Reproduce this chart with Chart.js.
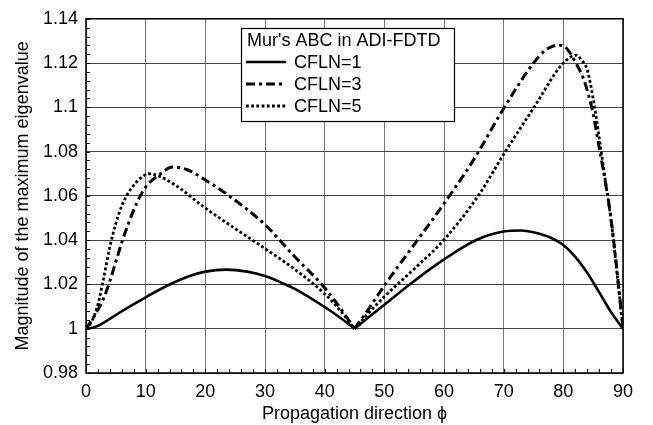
<!DOCTYPE html>
<html>
<head>
<meta charset="utf-8">
<script src="https://cdn.jsdelivr.net/npm/chart.js@4"></script>
<style>
    html, body { margin: 0; padding: 0; background: #ffffff; }
    #wrap { width: 653px; height: 425px; }
</style>
</head>
<body>
<div id="wrap"><canvas id="eigChart" width="653" height="425"></canvas></div>
<script>
// propagation direction (deg) and magnitude of max eigenvalue, split at 45 deg
const phiLeft1 = [0, 1.5, 3, 5, 7.5, 10, 13.5, 17, 20, 23.5, 27, 30, 33, 35, 40, 42.5, 45];
const cfl1Left = [1.0, 1.0008, 1.0028, 1.0062, 1.0103, 1.0142, 1.0193, 1.0235, 1.0258, 1.0267, 1.0258, 1.0238, 1.0205, 1.018, 1.0098, 1.0052, 1.0];
const phiRight1 = [45, 47, 50, 54.3, 60, 65.5, 70, 72.9, 75, 78, 80, 82, 84, 86, 88, 90];
const cfl1Right = [1.0, 1.0044, 1.0108, 1.0201, 1.0313, 1.0402, 1.0439, 1.0444, 1.0436, 1.041, 1.0378, 1.0325, 1.0253, 1.0165, 1.0075, 1.0];

const phiLeft3 = [0, 1, 2, 3, 4, 5, 6, 7, 8.6, 10, 12.5, 14.5, 17, 20, 24, 30, 35, 40, 43, 45];
const cfl3Left = [1.0, 1.004, 1.0085, 1.0141, 1.0215, 1.0303, 1.039, 1.0467, 1.0573, 1.064, 1.07, 1.073, 1.0718, 1.0672, 1.06, 1.047, 1.0325, 1.0185, 1.0078, 1.0];
const phiRight3 = [45, 47, 50, 55, 60, 65, 70, 75, 77, 79.2, 80.5, 82, 83.5, 85, 86, 87, 88, 89, 90];
const cfl3Right = [1.0, 1.0075, 1.0195, 1.038, 1.0565, 1.0765, 1.0995, 1.12, 1.1258, 1.1281, 1.1268, 1.1205, 1.112, 1.097, 1.082, 1.067, 1.0495, 1.026, 1.0];

const phiLeft5 = [0, 1, 2, 3, 4, 5, 6, 7, 8, 9, 10.5, 12, 15, 20, 25, 30, 35, 40, 42.5, 45];
const cfl5Left = [1.0, 1.0035, 1.011, 1.0235, 1.037, 1.0475, 1.0555, 1.061, 1.0648, 1.0677, 1.07, 1.0692, 1.0648, 1.0545, 1.0452, 1.0362, 1.0268, 1.0158, 1.0085, 1.0];
const phiRight5 = [45, 47, 50, 55, 60, 65.8, 70.2, 75.2, 79.7, 82.2, 83, 84, 85, 86, 87, 88, 89, 90];
const cfl5Right = [1.0, 1.006, 1.0145, 1.027, 1.0402, 1.0603, 1.0797, 1.1005, 1.1191, 1.1236, 1.1215, 1.117, 1.104, 1.0865, 1.0677, 1.049, 1.025, 1.0];

const xTicks = [0, 10, 20, 30, 40, 50, 60, 70, 80, 90];
const yTicks = [0.98, 1.0, 1.02, 1.04, 1.06, 1.08, 1.1, 1.12, 1.14];
const yTickLabels = ["0.98", "1", "1.02", "1.04", "1.06", "1.08", "1.1", "1.12", "1.14"];
const legendTitle = "Mur's ABC in ADI-FDTD";
const seriesNames = ["CFLN=1", "CFLN=3", "CFLN=5"];

const FONT = "'Liberation Sans', Arial, sans-serif";
const styles = [
    { width: 2.6, dash: [] },
    { width: 3, dash: [9, 4, 3, 4] },
    { width: 2.8, dash: [2.8, 2.4] },
];

function pts(xs, ys) {
    return xs.map((x, i) => ({ x, y: ys[i] }));
}

function makeSet(xs, ys, s) {
    return {
        data: pts(xs, ys),
        borderColor: "#000000",
        borderWidth: styles[s].width,
        borderDash: styles[s].dash,
        borderCapStyle: "butt",
        pointRadius: 0,
        fill: false,
        cubicInterpolationMode: "monotone",
    };
}

const datasets = [
    makeSet(phiLeft1, cfl1Left, 0),
    makeSet(phiRight1, cfl1Right, 0),
    makeSet(phiLeft3, cfl3Left, 1),
    makeSet(phiRight3, cfl3Right, 1),
    makeSet(phiLeft5, cfl5Left, 2),
    makeSet(phiRight5, cfl5Right, 2),
];

// box round the plot and small inner ticks
const framePlugin = {
    id: "frame",
    afterDatasetsDraw(chart) {
        const { ctx, chartArea: a, scales } = chart;
        ctx.save();
        ctx.strokeStyle = "#000000";
        ctx.lineWidth = 1;
        for (let v = 0; v <= 90; v += 2) {
            const px = Math.round(scales.x.getPixelForValue(v)) + 0.5;
            ctx.beginPath();
            ctx.moveTo(px, a.bottom);
            ctx.lineTo(px, a.bottom - 4);
            ctx.stroke();
        }
        for (let k = 0; k <= 40; k++) {
            const v = 0.98 + k * 0.004;
            const py = Math.round(scales.y.getPixelForValue(v)) + 0.5;
            ctx.beginPath();
            ctx.moveTo(a.left, py);
            ctx.lineTo(a.left + 4, py);
            ctx.stroke();
        }
        ctx.lineWidth = 1.5;
        ctx.strokeRect(a.left, a.top, a.right - a.left, a.bottom - a.top);
        ctx.restore();
    },
};

// boxed legend in the upper middle
const legendPlugin = {
    id: "boxLegend",
    afterDraw(chart) {
        const ctx = chart.ctx;
        const box = { l: 241, t: 28, r: 454, b: 121 };
        ctx.save();
        ctx.fillStyle = "#ffffff";
        ctx.fillRect(box.l, box.t, box.r - box.l, box.b - box.t);
        ctx.strokeStyle = "#000000";
        ctx.lineWidth = 1.2;
        ctx.strokeRect(box.l + 0.5, box.t + 0.5, box.r - box.l, box.b - box.t);
        ctx.fillStyle = "#000000";
        ctx.font = "18px " + FONT;
        ctx.textBaseline = "middle";
        ctx.fillText(legendTitle, 247, 41);
        const rows = [62, 84, 106];
        seriesNames.forEach((name, i) => {
            ctx.lineWidth = styles[i].width;
            ctx.setLineDash(styles[i].dash);
            ctx.lineCap = "butt";
            ctx.beginPath();
            ctx.moveTo(246, rows[i]);
            ctx.lineTo(286, rows[i]);
            ctx.stroke();
            ctx.setLineDash([]);
            ctx.fillText(name, 294, rows[i] + 1);
        });
        ctx.restore();
    },
};

new Chart(document.getElementById("eigChart"), {
    type: "line",
    data: { datasets },
    options: {
        responsive: false,
        animation: false,
        layout: { padding: { top: 15, right: 30, bottom: 0, left: 0 } },
        plugins: { legend: { display: false }, tooltip: { enabled: false } },
        scales: {
            x: {
                type: "linear",
                min: 0,
                max: 90,
                afterBuildTicks(scale) {
                    scale.ticks = xTicks.map((v) => ({ value: v }));
                },
                afterFit(scale) {
                    scale.height = 52;
                },
                ticks: {
                    color: "#000000",
                    padding: 8,
                    maxRotation: 0,
                    font: { family: FONT, size: 18 },
                    callback: (v) => String(v),
                },
                grid: { color: "#777777", lineWidth: 1, drawTicks: false },
                border: { display: false },
                title: {
                    display: true,
                    text: "Propagation direction \u03D5",
                    color: "#000000",
                    font: { family: FONT, size: 18 },
                    padding: { top: 0, bottom: 0 },
                },
            },
            y: {
                min: 0.98,
                max: 1.14,
                afterBuildTicks(scale) {
                    scale.ticks = yTicks.map((v) => ({ value: v }));
                },
                afterFit(scale) {
                    scale.width = 86;
                },
                ticks: {
                    color: "#000000",
                    padding: 8,
                    font: { family: FONT, size: 18 },
                    callback: (v, i) => yTickLabels[i],
                },
                grid: { color: "#444444", lineWidth: 1, drawTicks: false },
                border: { display: false },
                title: {
                    display: true,
                    text: "Magnitude of the maximum eigenvalue",
                    color: "#000000",
                    font: { family: FONT, size: 18 },
                    padding: { top: 12, bottom: 0 },
                },
            },
        },
    },
    plugins: [framePlugin, legendPlugin],
});
</script>
</body>
</html>
